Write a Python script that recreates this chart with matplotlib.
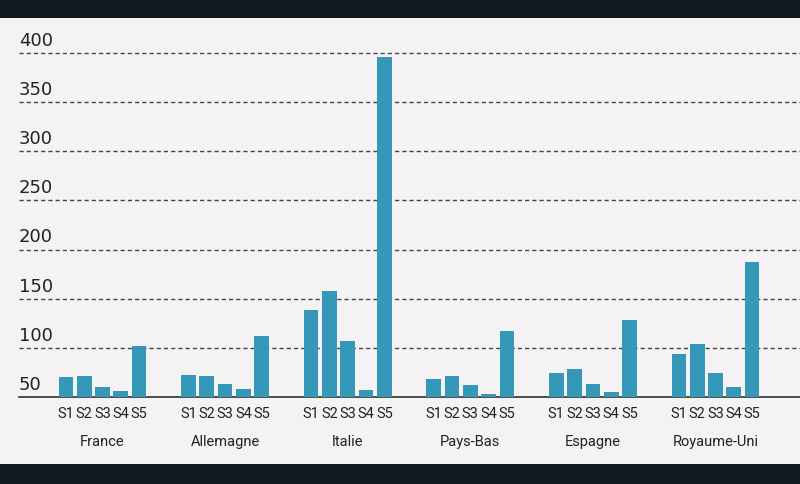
import matplotlib
matplotlib.use("Agg")
import matplotlib.pyplot as plt
import matplotlib.transforms as mtransforms
from matplotlib.patches import Rectangle

countries = ["France", "Allemagne", "Italie", "Pays-Bas", "Espagne", "Royaume-Uni"]
series = ["S1", "S2", "S3", "S4", "S5"]
values = {
    "France":      [70, 71, 60, 56, 102],
    "Allemagne":   [72, 71, 63, 58, 112],
    "Italie":      [138, 158, 107, 57, 396],
    "Pays-Bas":    [68, 71, 62, 53, 117],
    "Espagne":     [74, 78, 63, 55, 128],
    "Royaume-Uni": [94, 104, 74, 60, 187],
}
y_ticks = [50, 100, 150, 200, 250, 300, 350, 400]

BAR = "#3598b9"
TEXT = "#222222"
BG = "#f4f2f3"
DARK = "#121821"

plt.rcParams["font.family"] = ["Roboto", "DejaVu Sans"]

fig = plt.figure(figsize=(8, 4.84), dpi=100, facecolor=DARK)
# light panel between the dark bands (drawn beneath the axes)
fig.patches.append(Rectangle((0, 20 / 484), 1, 446 / 484, transform=fig.transFigure,
                             facecolor=BG, edgecolor="none", zorder=-1))

ax = fig.add_axes([19 / 800, 87 / 484, 781 / 800, 354 / 484])
ax.set_facecolor("none")

step = 0.1493
width = 0.12
xticks, xlabels = [], []
for i, c in enumerate(countries):
    for j, s in enumerate(series):
        x = i + (j - 2) * step
        ax.bar(x, values[c][j] - 50, bottom=50, width=width, color=BAR, zorder=3)
        xticks.append(x)
        xlabels.append(s)

ax.set_xlim(-0.681, 5.689)
ax.set_ylim(50, 410)

for v in y_ticks[1:]:
    ax.axhline(v, color="#444444", lw=1.0, dashes=(3, 2.2), zorder=1)

for side in ["top", "right", "left"]:
    ax.spines[side].set_visible(False)
ax.spines["bottom"].set_color("#333333")
ax.spines["bottom"].set_linewidth(1.2)

ax.set_yticks([])
ax.set_xticks(xticks)
ax.set_xticklabels(xlabels, fontsize=10.5, color=TEXT)
ax.tick_params(axis="x", length=0, pad=7)

# y labels sit just above their gridline, left aligned
trans_y = mtransforms.blended_transform_factory(ax.transAxes, ax.transData)
trans_y = trans_y + mtransforms.ScaledTranslation(0, 3 / 100, fig.dpi_scale_trans)
for v in y_ticks:
    ax.text(0, v, str(v), transform=trans_y, ha="left", va="bottom",
            fontsize=13, color=TEXT, family="DejaVu Sans")

trans_x = mtransforms.blended_transform_factory(ax.transData, ax.transAxes)
for i, c in enumerate(countries):
    ax.text(i, -0.128, c, transform=trans_x, ha="center", va="center",
            fontsize=10.5, color=TEXT)

fig.savefig("out.png", dpi=100, facecolor=DARK)
